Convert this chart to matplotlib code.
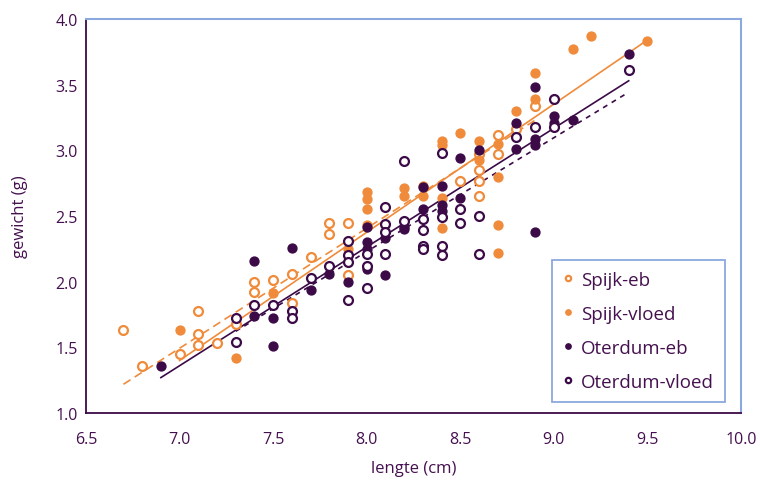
import matplotlib.pyplot as plt
import numpy as np

# ---- data (lengte in cm, gewicht in g) ----
spijk_eb_x = [6.7, 6.8, 7.0, 7.1, 7.1, 7.1, 7.2, 7.3, 7.4, 7.4, 7.5, 7.6, 7.6, 7.7,
              7.8, 7.8, 7.9, 7.9, 8.5, 8.6, 8.6, 8.6, 8.6, 8.7, 8.7, 8.8, 8.9]
spijk_eb_y = [1.63, 1.36, 1.45, 1.78, 1.60, 1.52, 1.53, 1.68, 2.00, 1.92, 2.01, 2.06, 1.84, 2.19,
              2.45, 2.36, 2.45, 2.05, 2.77, 2.97, 2.85, 2.77, 2.65, 3.12, 2.97, 3.16, 3.34]

spijk_vloed_x = [7.0, 7.3, 7.5, 7.9, 8.0, 8.0, 8.0, 8.0, 8.2, 8.2, 8.3, 8.3, 8.4, 8.4, 8.4, 8.4,
                 8.5, 8.6, 8.6, 8.7, 8.7, 8.7, 8.7, 8.8, 8.9, 8.9, 9.1, 9.2, 9.5]
spijk_vloed_y = [1.63, 1.42, 1.91, 2.25, 2.68, 2.63, 2.55, 2.43, 2.71, 2.65, 2.73, 2.65, 3.07, 3.04, 2.64, 2.41,
                 3.13, 3.07, 2.93, 3.05, 2.80, 2.43, 2.22, 3.30, 3.59, 3.39, 3.77, 3.87, 3.83]

oterdum_eb_x = [6.9, 7.4, 7.4, 7.5, 7.5, 7.6, 7.7, 7.8, 7.9, 8.0, 8.0, 8.0, 8.0, 8.1, 8.1,
                8.2, 8.2, 8.3, 8.3, 8.4, 8.4, 8.4, 8.5, 8.5, 8.6, 8.8, 8.8, 8.9, 8.9, 8.9, 8.9,
                9.0, 9.0, 9.1, 9.4]
oterdum_eb_y = [1.36, 2.16, 1.74, 1.72, 1.51, 2.26, 1.94, 2.06, 2.00, 2.42, 2.30, 2.25, 2.10, 2.33, 2.05,
                2.42, 2.40, 2.72, 2.55, 2.73, 2.58, 2.54, 2.94, 2.64, 3.00, 3.21, 3.01, 3.48, 3.09, 3.04, 2.38,
                3.26, 3.21, 3.23, 3.73]

oterdum_vloed_x = [7.3, 7.3, 7.4, 7.5, 7.6, 7.6, 7.7, 7.8, 7.9, 7.9, 7.9, 7.9, 8.0, 8.0, 8.0,
                   8.1, 8.1, 8.1, 8.1, 8.2, 8.2, 8.3, 8.3, 8.3, 8.3, 8.4, 8.4, 8.4, 8.4,
                   8.5, 8.5, 8.6, 8.6, 8.8, 8.9, 9.0, 9.0, 9.4]
oterdum_vloed_y = [1.72, 1.54, 1.82, 1.82, 1.78, 1.72, 2.03, 2.12, 2.31, 2.20, 2.15, 1.86, 2.21, 2.12, 1.95,
                   2.57, 2.44, 2.38, 2.21, 2.92, 2.46, 2.48, 2.39, 2.27, 2.25, 2.98, 2.49, 2.27, 2.20,
                   2.55, 2.45, 2.50, 2.21, 3.10, 3.18, 3.39, 3.18, 3.61]

# linear trend lines (slope, intercept) as seen in the chart
trend_spijk_eb = (0.914, -4.905)
trend_spijk_vloed = (0.976, -5.432)
trend_oterdum_eb = (0.904, -4.968)
trend_oterdum_vloed = (0.867, -4.707)

labels = ["Spijk-eb", "Spijk-vloed", "Oterdum-eb", "Oterdum-vloed"]
x_ticks = [6.5, 7.0, 7.5, 8.0, 8.5, 9.0, 9.5, 10.0]
y_ticks = [1.0, 1.5, 2.0, 2.5, 3.0, 3.5, 4.0]

orange = "#EF8B3B"
purple = "#3B0A47"
txt = "#45104F"
blue = "#8BA9DD"

plt.rcParams['font.family'] = ['Open Sans', 'DejaVu Sans']

fig = plt.figure(figsize=(7.6, 4.89), dpi=100)
ax = fig.add_axes([0.1132, 0.1534, 0.8618, 0.8057])

ms = 6.4
ax.plot(spijk_eb_x, spijk_eb_y, 'o', ms=ms, mfc='white', mec=orange, mew=1.6, label=labels[0], zorder=3)
ax.plot(spijk_vloed_x, spijk_vloed_y, 'o', ms=ms, mfc=orange, mec=orange, label=labels[1], zorder=3)
ax.plot(oterdum_eb_x, oterdum_eb_y, 'o', ms=ms, mfc=purple, mec=purple, label=labels[2], zorder=4)
ax.plot(oterdum_vloed_x, oterdum_vloed_y, 'o', ms=ms, mfc='white', mec=purple, mew=1.6, label=labels[3], zorder=4)

# trend lines over each series' own x range
for xs, (a, b), col, ls in [(spijk_eb_x, trend_spijk_eb, orange, (0, (5, 3))),
                            (spijk_vloed_x, trend_spijk_vloed, orange, '-'),
                            (oterdum_eb_x, trend_oterdum_eb, purple, '-'),
                            (oterdum_vloed_x, trend_oterdum_vloed, purple, (0, (3, 3)))]:
    xr = np.array([min(xs), max(xs)])
    ax.plot(xr, a * xr + b, color=col, lw=1.2, linestyle=ls, zorder=2)

ax.set_xlim(6.5, 10.0)
ax.set_ylim(1.0, 4.0)
ax.set_xticks(x_ticks)
ax.set_yticks(y_ticks)
ax.set_xticklabels([f"{v:.1f}" for v in x_ticks])
ax.set_yticklabels([f"{v:.1f}" for v in y_ticks])
ax.tick_params(length=0, labelsize=11.5, colors=txt)
ax.tick_params(axis='x', pad=13)
ax.tick_params(axis='y', pad=6)

for s in ['left', 'bottom']:
    ax.spines[s].set_color(purple)
    ax.spines[s].set_linewidth(1.3)
for s in ['top', 'right']:
    ax.spines[s].set_color(blue)
    ax.spines[s].set_linewidth(1.5)

ax.set_xlabel("lengte (cm)", fontsize=12, color=txt, labelpad=9)
ax.set_ylabel("gewicht (g)", fontsize=12, color=txt, labelpad=20)

leg = ax.legend(loc='lower right', bbox_to_anchor=(0.976, 0.028), borderaxespad=0,
                fancybox=False, edgecolor=blue, framealpha=1, fontsize=13.5,
                markerscale=0.6, handlelength=0.5, handletextpad=0.45,
                labelspacing=0.85, borderpad=0.6, labelcolor=txt)
leg.get_frame().set_linewidth(1.3)

fig.savefig("out.png", dpi=100)
